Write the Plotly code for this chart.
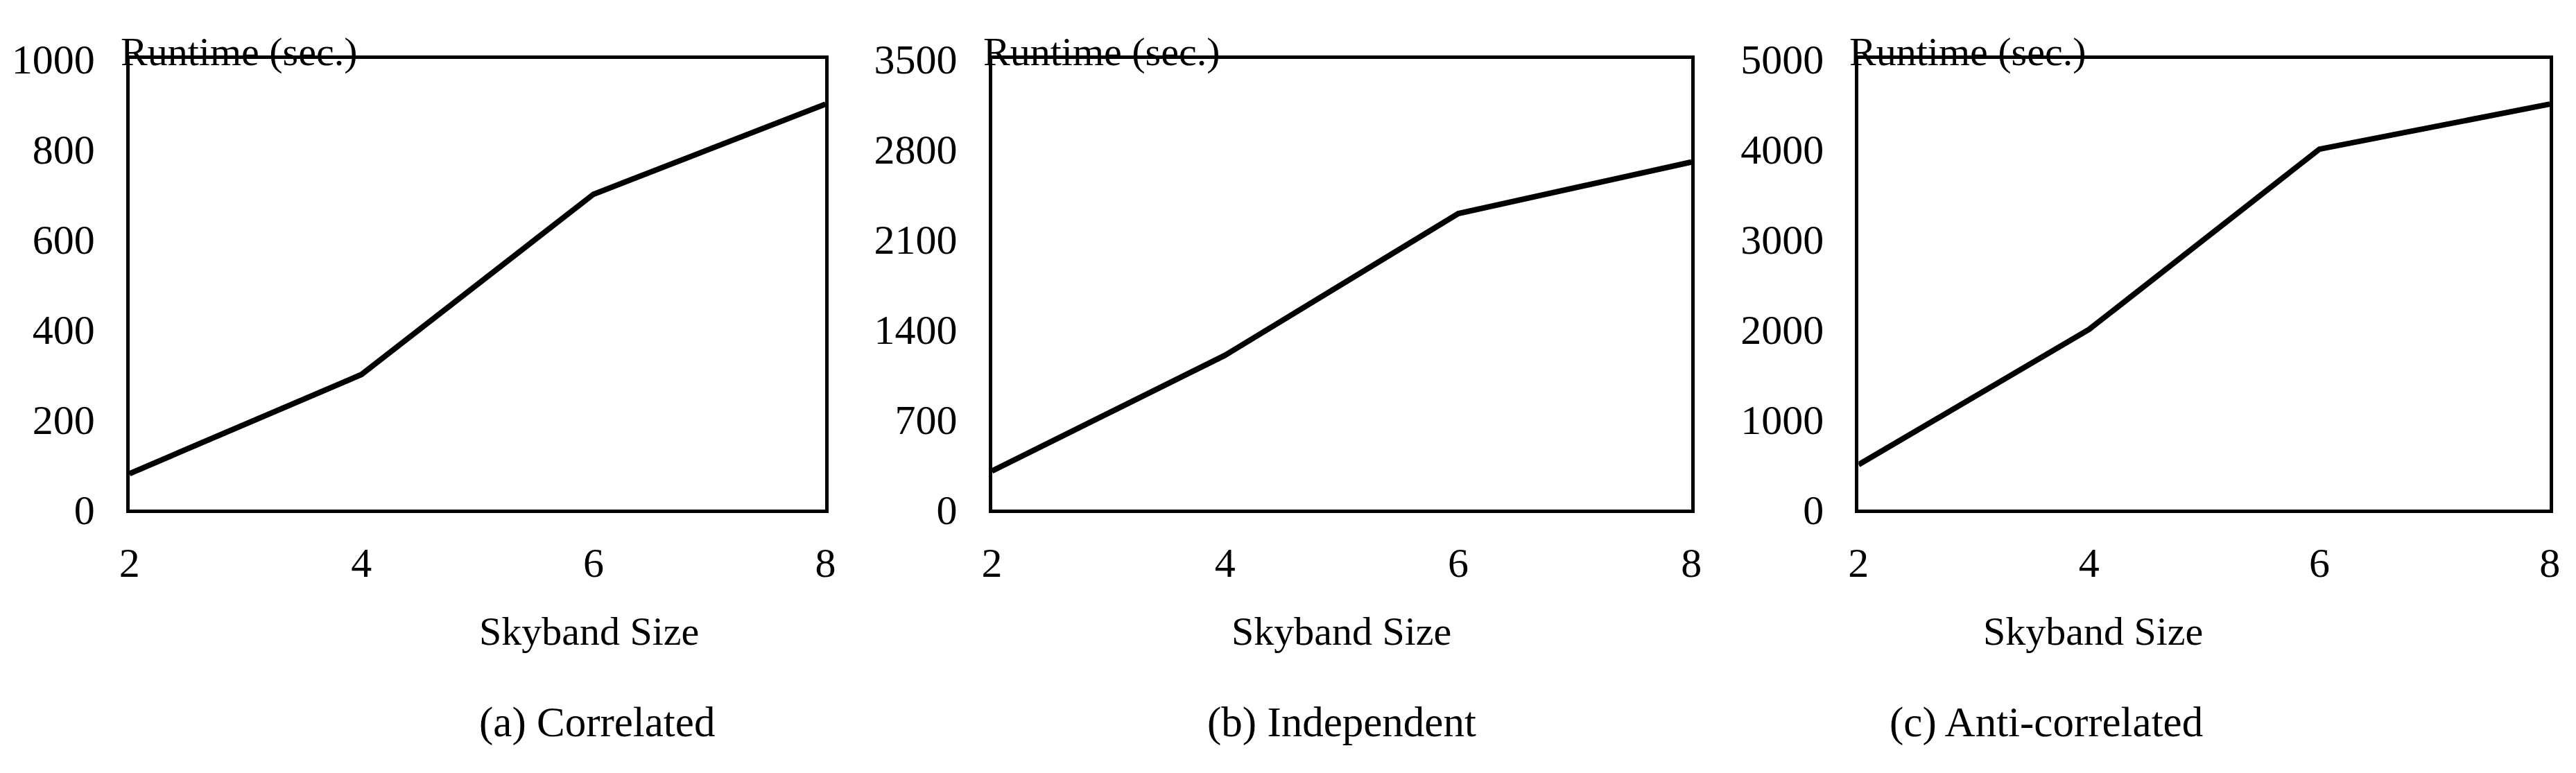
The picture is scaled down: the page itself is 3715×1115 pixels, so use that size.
import plotly.graph_objects as go

x_vals = [2, 4, 6, 8]
correlated = [80, 300, 700, 900]
independent = [300, 1200, 2300, 2700]
anticorrelated = [500, 2000, 4000, 4500]
captions = ["(a) Correlated", "(b) Independent", "(c) Anti-correlated"]
y_ranges = [1000, 3500, 5000]
y_dticks = [200, 700, 1000]

W, H = 3715, 1115
panels_px = [(165, 1177), (1419, 2436), (2679, 3684)]
top_px, bot_px = 48, 739
font = "Liberation Serif"

fig = go.Figure()
series = [correlated, independent, anticorrelated]
for i, (ys, (l, r)) in enumerate(zip(series, panels_px)):
    n = "" if i == 0 else str(i + 1)
    fig.add_trace(go.Scatter(x=x_vals, y=ys, mode="lines", line=dict(color="black", width=8),
                             xaxis="x" + n, yaxis="y" + n, showlegend=False))
    ax = dict(domain=[l / W, r / W], range=[2, 8], tickvals=x_vals, showline=True, mirror=True,
              linecolor="black", linewidth=5, showgrid=False, zeroline=False, ticks="",
              ticklabelstandoff=20, tickfont=dict(family=font, size=60, color="black"),
              anchor="y" + n)
    ay = dict(domain=[1 - bot_px / H, 1 - top_px / H], range=[0, y_ranges[i]], dtick=y_dticks[i],
              showline=True, mirror=True, linecolor="black", linewidth=5, showgrid=False,
              zeroline=False, ticks="", ticklabelstandoff=33,
              tickfont=dict(family=font, size=60, color="black"), anchor="x" + n)
    fig.layout["xaxis" + n] = ax
    fig.layout["yaxis" + n] = ay
    cx = (l + r) / 2 / W
    fig.add_annotation(x=cx, y=1 - 925 / H, xref="paper", yref="paper", text="Skyband Size",
                       showarrow=False, yanchor="middle",
                       font=dict(family=font, size=58, color="black"))
    fig.add_annotation(x=cx, y=1 - 1065 / H, xref="paper", yref="paper", text=captions[i],
                       showarrow=False, yanchor="middle",
                       font=dict(family=font, size=61, color="black"))
    fig.add_annotation(x=(l - 15) / W, y=1.0, xref="paper", yref="paper", text="Runtime (sec.)",
                       showarrow=False, xanchor="left", yanchor="top",
                       font=dict(family=font, size=58, color="black"))

fig.update_layout(width=W, height=H, margin=dict(l=0, r=0, t=0, b=0),
                  plot_bgcolor="white", paper_bgcolor="white")
fig.write_html("out.html")
